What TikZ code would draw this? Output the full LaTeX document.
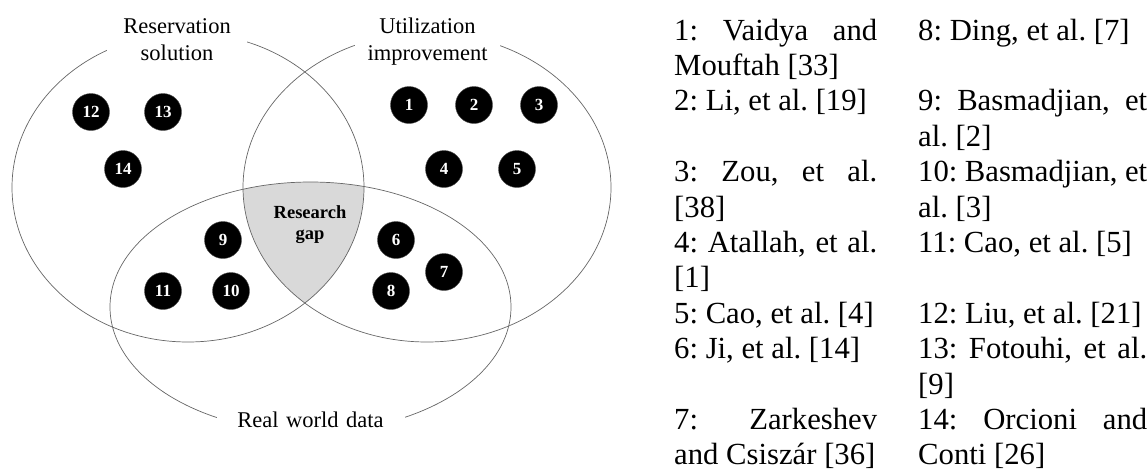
\documentclass[tikz,border=0pt]{standalone}
\usepackage{fontspec}
\setmainfont{Liberation Serif}
\begin{document}
\begin{tikzpicture}[x=1pt,y=-1pt,
  setline/.style={draw=black!60,line width=0.7pt},
  gapfill/.style={fill=black!15},
  setlabel/.style={fill=white,inner xsep=0pt,inner ysep=4pt,align=center,anchor=base,
    font=\fontsize{22.5}{27}\selectfont},
  paper/.style={circle,fill=black,draw=black!70,line width=0.4pt,minimum size=37pt,inner sep=0pt,
    text=white,font=\bfseries\fontsize{17}{17}\selectfont},
  gaplabel/.style={align=center,anchor=base,text width=90pt,inner sep=0pt,
    font=\bfseries\fontsize{18.5}{21}\selectfont},
  refcell/.style={anchor=base west,inner sep=0pt,
    font=\fontsize{30.7}{35.4}\selectfont\frenchspacing,
    execute at begin node={\spaceskip=0pt\xspaceskip=0pt}},
  leftcol/.style={refcell,text width=203pt},
  rightcol/.style={refcell,text width=229pt}]
\useasboundingbox (0,0) rectangle (1148,474);

% shaded intersection of all three sets
\begin{scope}
  \clip (188,187.5) ellipse [x radius=176pt, y radius=154.5pt];
  \clip (427,187.5) ellipse [x radius=184pt, y radius=154.5pt];
  \fill[gapfill] (310.5,307) ellipse [x radius=200.5pt, y radius=125pt];
\end{scope}

% the three sets
\draw[setline] (188,187.5) ellipse [x radius=176pt, y radius=154.5pt];
\draw[setline] (427,187.5) ellipse [x radius=184pt, y radius=154.5pt];
\draw[setline] (310.5,307) ellipse [x radius=200.5pt, y radius=125pt];

% set names
\node[setlabel,text width=140pt] (resv) at (177,33) {Reservation\\solution};
\node[setlabel,text width=145pt] (util) at (427.5,33) {Utilization\\improvement};
\node[setlabel,text width=188pt,inner ysep=12pt] (real) at (310.5,427) {Real world data};

\node[gaplabel] (gap) at (310,218) {Research\\gap};

% numbered papers
\node[paper] (p1)  at (409,105) {1};
\node[paper] (p2)  at (474,105) {2};
\node[paper] (p3)  at (539,105) {3};
\node[paper] (p4)  at (444,169) {4};
\node[paper] (p5)  at (517,169) {5};
\node[paper] (p6)  at (396,240) {6};
\node[paper] (p7)  at (444,272) {7};
\node[paper] (p8)  at (391,291) {8};
\node[paper] (p9)  at (223,240) {9};
\node[paper] (p10) at (231,291) {10};
\node[paper] (p11) at (163,291) {11};
\node[paper] (p12) at (91,112)  {12};
\node[paper] (p13) at (163,112) {13};
\node[paper] (p14) at (123,169) {14};

% reference list: two justified columns
\def\ls{35.4}
\node[leftcol]  (r1)  at (674,40)            {\makebox[\linewidth][s]{1: Vaidya and}\\Mouftah [33]};
\node[leftcol]  (r2)  at (674,{40+2*\ls})    {2: Li, et al. [19]};
\node[leftcol]  (r3)  at (674,{40+4*\ls})    {\makebox[\linewidth][s]{3: Zou, et al.}\\{[38]}};
\node[leftcol]  (r4)  at (674,{40+6*\ls})    {\makebox[\linewidth][s]{4: Atallah, et al.}\\{[1]}};
\node[leftcol]  (r5)  at (674,{40+8*\ls})    {5: Cao, et al. [4]};
\node[leftcol]  (r6)  at (674,{40+9*\ls})    {6: Ji, et al. [14]};
\node[leftcol]  (r7)  at (674,{40+11*\ls})   {\makebox[\linewidth][s]{7: Zarkeshev}\\and Csiszár [36]};
\node[rightcol] (r8)  at (918,40)            {8: Ding, et al. [7]};
\node[rightcol] (r9)  at (918,{40+2*\ls})    {\makebox[\linewidth][s]{9: Basmadjian, et}\\al. [2]};
\node[rightcol] (r10) at (918,{40+4*\ls})    {\makebox[\linewidth][s]{10: Basmadjian, et}\\al. [3]};
\node[rightcol] (r11) at (918,{40+6*\ls})    {11: Cao, et al. [5]};
\node[rightcol] (r12) at (918,{40+8*\ls})    {12: Liu, et al. [21]};
\node[rightcol] (r13) at (918,{40+9*\ls})    {\makebox[\linewidth][s]{13: Fotouhi, et al.}\\{[9]}};
\node[rightcol] (r14) at (918,{40+11*\ls})   {\makebox[\linewidth][s]{14: Orcioni and}\\Conti [26]};
\end{tikzpicture}
\end{document}
